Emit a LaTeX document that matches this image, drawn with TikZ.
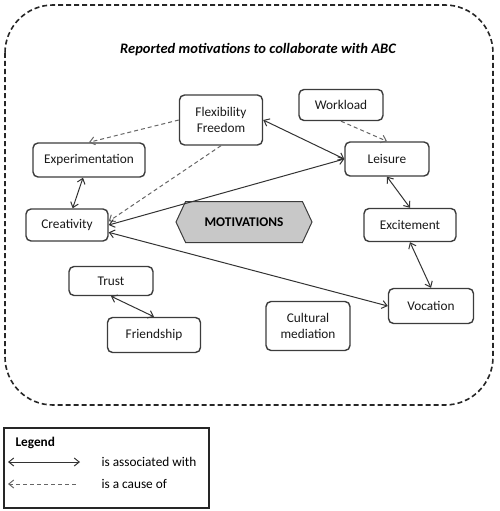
\documentclass[tikz,border=0pt]{standalone}
\usepackage{fontspec}
\setmainfont{Carlito}
\usepackage{xcolor}
\usepackage{tikz}
\usetikzlibrary{positioning,calc,shapes.symbols,arrows.meta}
\definecolor{hexgray}{RGB}{200,200,200}
\definecolor{inkgray}{RGB}{60,60,60}

\begin{document}
\begin{tikzpicture}[x=1pt, y=-1pt,
					box/.style={
						draw=inkgray, line width=1.4pt, fill=white, text=black!90,
						rounded corners=5pt, align=center, inner sep=2pt,
						font=\fontsize{13.3}{15.5}\selectfont
					},
					hexa/.style={
						shape=signal, signal to=west and east, signal pointer angle=130,
						draw=inkgray, line width=1pt, fill=hexgray, inner sep=0pt,
						minimum width=136pt, minimum height=41pt,
						font=\fontsize{13.3}{15.5}\selectfont\bfseries
					},
					assoc/.style={
						{Straight Barb[length=5pt,width=8pt]}-{Straight Barb[length=5pt,width=8pt]},
						draw=black!80, line width=1pt
					},
					cause/.style={
						-{Straight Barb[length=5pt,width=8pt]},
						draw=black!60, line width=1pt, dash pattern=on 4pt off 3pt
					}
					]
					\useasboundingbox (0,0) rectangle (500,511);
					
					% cadre pointille
					\draw[draw=black!85, line width=1.6pt, dash pattern=on 5pt off 3pt, rounded corners=48pt]
						(5,5) rectangle (493,405);
					\node[font=\fontsize{14.5}{17}\selectfont\bfseries\itshape] (titre) at (258,50)
						{Reported motivations to collaborate with ABC};
					
					% les motivations
					\node[box, minimum width=83pt, minimum height=50pt] (flex) at (221,120) {Flexibility\\Freedom};
					\node[box, minimum width=84pt, minimum height=31pt] (work) at (341,105) {Workload};
					\node[box, minimum width=112pt, minimum height=34pt] (expe) at (89,160) {Experimentation};
					\node[box, minimum width=84pt, minimum height=34pt] (leis) at (387,159) {Leisure};
					\node[box, minimum width=82pt, minimum height=32pt] (crea) at (67,225) {Creativity};
					\node[hexa] (moti) at (244,222) {MOTIVATIONS};
					\node[box, minimum width=92pt, minimum height=33pt] (exci) at (410,225) {Excitement};
					\node[box, minimum width=84pt, minimum height=29pt] (trus) at (111,281) {Trust};
					\node[box, minimum width=93pt, minimum height=35pt] (frie) at (154,335) {Friendship};
					\node[box, minimum width=84pt, minimum height=49pt] (cult) at (308,326) {Cultural\\mediation};
					\node[box, minimum width=85pt, minimum height=35pt] (voca) at (431,306) {Vocation};
					
					% liens
					\draw[cause] (flex.west) -- (expe.north);
					\draw[cause] (flex.south) -- (crea.5);
					\draw[cause] (work.south) -- (leis.north);
					\draw[assoc] (flex.east) -- (leis.west);
					\draw[assoc] (crea.east) -- (leis.west);
					\draw[assoc] (expe) -- (crea);
					\draw[assoc] (leis.south) -- (exci.north);
					\draw[assoc] (exci.south) -- (voca.north);
					\draw[assoc] (crea.-10) -- (voca.west);
					\draw[assoc] (trus.south) -- (frie.north);
					
					% legende
					\draw[draw=black!85, line width=1.4pt] (4,428) rectangle (209,508);
					\node[anchor=west, font=\fontsize{13.3}{15.5}\selectfont\bfseries] (lege) at (12,443) {Legend};
					\coordinate (a1) at (8,462);
					\coordinate (a2) at (80,462);
					\coordinate (c1) at (8,484);
					\coordinate (c2) at (78,484);
					\draw[assoc] (a1) -- (a2);
					\draw[cause, -, {Straight Barb[length=5pt,width=8pt]}-] (c1) -- (c2);
					\node[anchor=west, font=\fontsize{13.3}{15.5}\selectfont] (tass) at (98,462) {is associated with};
					\node[anchor=west, font=\fontsize{13.3}{15.5}\selectfont] (tcau) at (98,484) {is a cause of};
				\end{tikzpicture}
\end{document}
